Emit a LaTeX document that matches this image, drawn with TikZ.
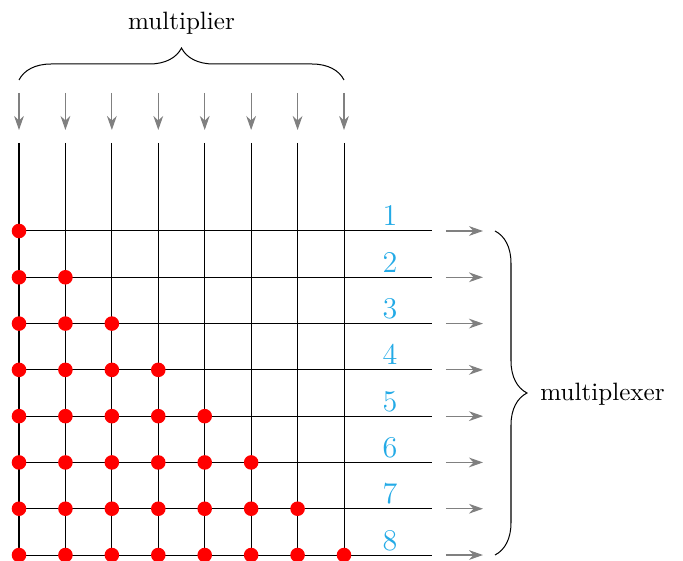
\documentclass[tikz,border=0pt]{standalone}
\usetikzlibrary{arrows.meta,decorations.pathreplacing}
\definecolor{lbl}{RGB}{35,170,230}
\begin{document}
\begin{tikzpicture}[x=0.3984pt,y=-0.3984pt,
  wire/.style={line width=0.4pt,black},
  feed/.style={gray,-{Stealth[length=5.6pt,width=3.9pt]},line width=0.45pt},
  dot/.style={circle,fill=red,inner sep=0pt,minimum size=5.8pt},
  num/.style={lbl,font=\large,anchor=base,inner sep=0pt},
  brc/.style={decorate,decoration={brace,amplitude=12.75pt},line width=0.4pt},
  txt/.style={inner sep=0pt}
]
\useasboundingbox (0,0) rectangle (683,561);
\foreach \i in {1,...,8}{
  \pgfmathsetmacro\xx{19+46.43*(\i-1)}
  \pgfmathsetmacro\yy{231+46.29*(\i-1)}
  \coordinate (in\i) at (\xx,93);
  \coordinate (ia\i) at (\xx,130);
  \coordinate (ct\i) at (\xx,143);
  \coordinate (cb\i) at (\xx,555);
  \coordinate (rl\i) at (19,\yy);
  \coordinate (rr\i) at (432,\yy);
  \coordinate (os\i) at (446,\yy);
  \coordinate (oe\i) at (483,\yy);
  \draw[feed] (in\i) -- (ia\i);
  \draw[wire] (ct\i) -- (cb\i);
  \draw[wire] (rl\i) -- (rr\i);
  \draw[feed] (os\i) -- (oe\i);
  \node[num] (n\i) at (390,\yy-5) {\i};
}
\foreach \r in {1,...,8}{
  \foreach \c in {1,...,\r}{
    \node[dot] (d\r\c) at (ct\c |- rl\r) {};
  }
}
\coordinate (bl) at (19,80);
\coordinate (br) at (344,80);
\coordinate (rt) at (495,231);
\coordinate (rb) at (495,555);
\draw[brc] (bl) -- (br);
\draw[brc] (rt) -- (rb);
\node[txt,anchor=base] (mt) at (181.5,30) {multiplier};
\node[txt,anchor=base west] (mx) at (540,401) {multiplexer};
\end{tikzpicture}
\end{document}
